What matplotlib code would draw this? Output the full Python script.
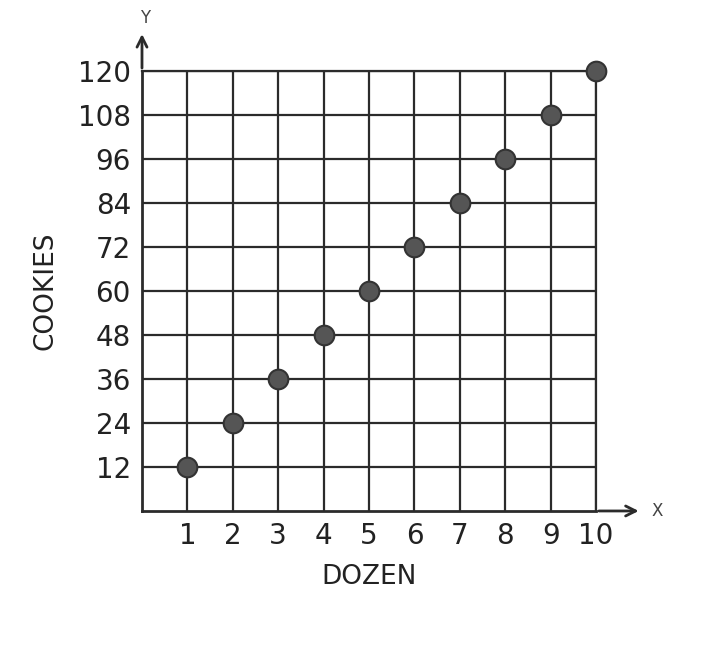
import numpy as np
import matplotlib.pyplot as plt

# data
dozen = [1, 2, 3, 4, 5, 6, 7, 8, 9, 10]
cookies = [12, 24, 36, 48, 60, 72, 84, 96, 108, 120]
x_ticks = [1, 2, 3, 4, 5, 6, 7, 8, 9, 10]
y_ticks = [12, 24, 36, 48, 60, 72, 84, 96, 108, 120]

ink = "#2b2b2b"

fig = plt.figure(figsize=(7.04, 6.52), dpi=100)
ax = fig.add_axes([0.2017, 0.2163, 0.645, 0.675])

ax.set_xlim(0, 10)
ax.set_ylim(0, 120)
ax.set_xticks(x_ticks)
ax.set_yticks(y_ticks)
ax.grid(True, color=ink, linewidth=1.6)
ax.set_axisbelow(True)

for side in ["top", "right"]:
    ax.spines[side].set_color(ink)
    ax.spines[side].set_linewidth(1.6)
for side in ["left", "bottom"]:
    ax.spines[side].set_color(ink)
    ax.spines[side].set_linewidth(2)

ax.tick_params(length=0, labelsize=20, labelcolor="#222222", pad=8)

ax.scatter(dozen, cookies, s=200, color="#555555", edgecolor="#333333",
           linewidth=1.5, zorder=3, clip_on=False)

# axis arrows
ax.annotate("", xy=(1.1, 0), xytext=(1.0, 0), xycoords="axes fraction",
            arrowprops=dict(arrowstyle="->", color=ink, lw=2, mutation_scale=18),
            annotation_clip=False)
ax.annotate("", xy=(0, 1.09), xytext=(0, 1.0), xycoords="axes fraction",
            arrowprops=dict(arrowstyle="->", color=ink, lw=2, mutation_scale=18),
            annotation_clip=False)
ax.text(1.135, 0.0, "X", transform=ax.transAxes, fontsize=12, color="#444444",
        ha="center", va="center")
ax.text(0.006, 1.12, "Y", transform=ax.transAxes, fontsize=12, color="#444444",
        ha="center", va="center")

ax.set_xlabel("DOZEN", fontsize=19, color="#222222", labelpad=10)
ax.set_ylabel("COOKIES", fontsize=19, color="#222222", labelpad=14)

fig.savefig("out.png", dpi=100)
